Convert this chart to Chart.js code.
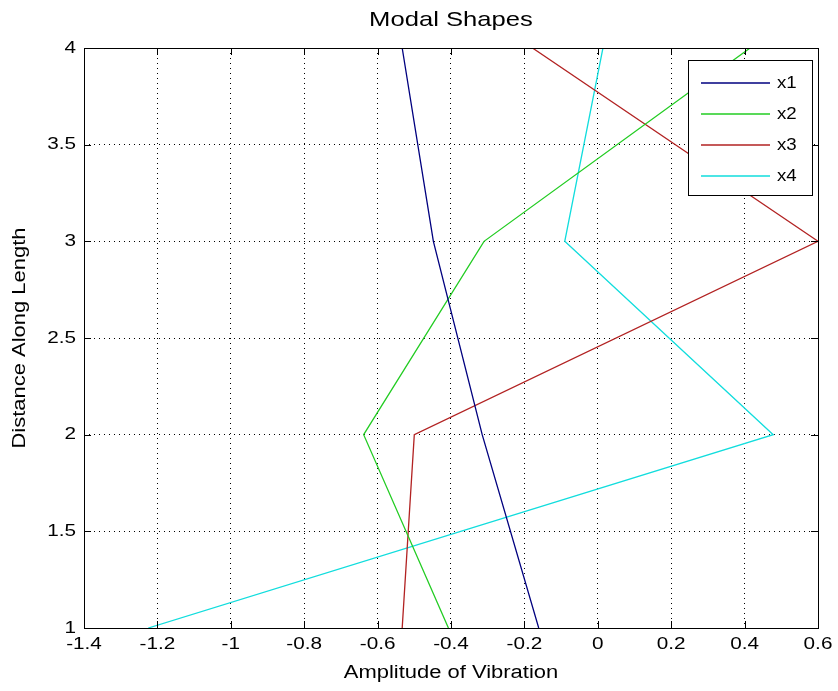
<!DOCTYPE html>
<html>
<head>
<meta charset="utf-8">
<script src="https://cdn.jsdelivr.net/npm/chart.js@4/dist/chart.umd.min.js"></script>
<style>
html,body{margin:0;padding:0;background:#fff;}
#wrap{width:838px;height:691px;position:relative;}
</style>
</head>
<body>
<div id="wrap"><canvas id="c" width="838" height="691"></canvas></div>
<script>
// Data
const distance = [1, 2, 3, 4];
const x1 = [-0.161, -0.315, -0.448, -0.533];
const x2 = [-0.407, -0.638, -0.310, 0.415];
const x3 = [-0.533, -0.500, 0.600, -0.178];
const x4 = [-1.225, 0.478, -0.090, 0.014];
const seriesNames = ['x1', 'x2', 'x3', 'x4'];
const seriesColors = ['#00007f', '#22cc22', '#b22222', '#11dddd'];
const xTicks = [-1.4, -1.2, -1, -0.8, -0.6, -0.4, -0.2, 0, 0.2, 0.4, 0.6];
const yTicks = [1, 1.5, 2, 2.5, 3, 3.5, 4];
const titleText = 'Modal Shapes';
const xTitle = 'Amplitude of Vibration';
const yTitle = 'Distance Along Length';

const FONT = '"Liberation Sans", Arial, sans-serif';
const STRETCH = 1.22;
const allSeries = [x1, x2, x3, x4];
const datasets = allSeries.map((s, i) => ({
  label: seriesNames[i],
  data: s.map((v, j) => ({x: v, y: distance[j]})),
  borderColor: seriesColors[i],
  backgroundColor: seriesColors[i],
  borderWidth: 1.3,
  pointRadius: 0,
  showLine: true,
  tension: 0,
  clip: true
}));

const fmt = v => String(Math.round(v * 10) / 10);

// draw text stretched along its own direction
function wideText(ctx, text, x, y, size, align, baseline, rot, stretch) {
  ctx.save();
  ctx.translate(x, y);
  if (rot) ctx.rotate(rot);
  ctx.scale(stretch, 1);
  ctx.font = size + 'px ' + FONT;
  ctx.textAlign = align;
  ctx.textBaseline = baseline;
  ctx.fillStyle = '#000';
  ctx.fillText(text, 0, 0);
  ctx.restore();
}

const framePlugin = {
  id: 'frame',
  afterDatasetsDraw(chart) {
    const {ctx, chartArea: a} = chart;
    const xs = chart.scales.x, ys = chart.scales.y;
    ctx.save();
    ctx.setLineDash([]);
    ctx.strokeStyle = '#000';
    ctx.lineWidth = 1;
    ctx.strokeRect(Math.round(a.left) + 0.5, Math.round(a.top) + 0.5, Math.round(a.right - a.left), Math.round(a.bottom - a.top));
    // inward ticks
    ctx.beginPath();
    xTicks.forEach(t => {
      const px = Math.round(xs.getPixelForValue(t)) + 0.5;
      ctx.moveTo(px, a.bottom); ctx.lineTo(px, a.bottom - 7);
      ctx.moveTo(px, a.top); ctx.lineTo(px, a.top + 7);
    });
    yTicks.forEach(t => {
      const py = Math.round(ys.getPixelForValue(t)) + 0.5;
      ctx.moveTo(a.left, py); ctx.lineTo(a.left + 7, py);
      ctx.moveTo(a.right, py); ctx.lineTo(a.right - 7, py);
    });
    ctx.stroke();
    // tick labels
    xTicks.forEach(t => {
      wideText(ctx, fmt(t), xs.getPixelForValue(t), a.bottom + 16, 17, 'center', 'middle', 0, STRETCH);
    });
    yTicks.forEach(t => {
      wideText(ctx, fmt(t), a.left - 8, ys.getPixelForValue(t), 17, 'right', 'middle', 0, STRETCH);
    });
    // titles
    const cx = (a.left + a.right) / 2;
    wideText(ctx, titleText, cx, 20, 21, 'center', 'middle', 0, STRETCH);
    wideText(ctx, xTitle, cx, 673, 18, 'center', 'middle', 0, STRETCH);
    wideText(ctx, yTitle, 20, (a.top + a.bottom) / 2, 18, 'center', 'middle', -Math.PI / 2, STRETCH);
    // legend
    const lx = 688, ly = 60, lw = 124, lh = 135;
    ctx.fillStyle = '#fff';
    ctx.fillRect(lx, ly, lw, lh);
    ctx.strokeStyle = '#000';
    ctx.lineWidth = 1;
    ctx.strokeRect(lx + 0.5, ly + 0.5, lw, lh);
    chart.data.datasets.forEach((d, i) => {
      const yy = ly + 23 + i * 31;
      ctx.strokeStyle = d.borderColor;
      ctx.lineWidth = 1.3;
      ctx.beginPath();
      ctx.moveTo(lx + 13, yy); ctx.lineTo(lx + 82, yy);
      ctx.stroke();
      wideText(ctx, d.label, lx + 89, yy, 17, 'left', 'middle', 0, 1.1);
    });
    ctx.restore();
  }
};

new Chart(document.getElementById('c'), {
  type: 'scatter',
  data: {datasets},
  options: {
    responsive: false,
    animation: false,
    events: [],
    layout: {padding: {top: 48, right: 20, left: 0, bottom: 0}},
    plugins: {legend: {display: false}, title: {display: false}, tooltip: {enabled: false}},
    scales: {
      x: {
        type: 'linear', min: -1.4, max: 0.6,
        afterBuildTicks: s => { s.ticks = xTicks.map(v => ({value: v})); },
        afterFit: s => { s.height = 63; },
        grid: {color: '#000', lineWidth: 1, drawTicks: false},
        border: {display: false, dash: [1, 4]},
        ticks: {display: false}
      },
      y: {
        type: 'linear', min: 1, max: 4,
        afterBuildTicks: s => { s.ticks = yTicks.map(v => ({value: v})); },
        afterFit: s => { s.width = 84; },
        grid: {color: '#000', lineWidth: 1, drawTicks: false},
        border: {display: false, dash: [1, 4]},
        ticks: {display: false}
      }
    }
  },
  plugins: [framePlugin]
});
</script>
</body>
</html>
